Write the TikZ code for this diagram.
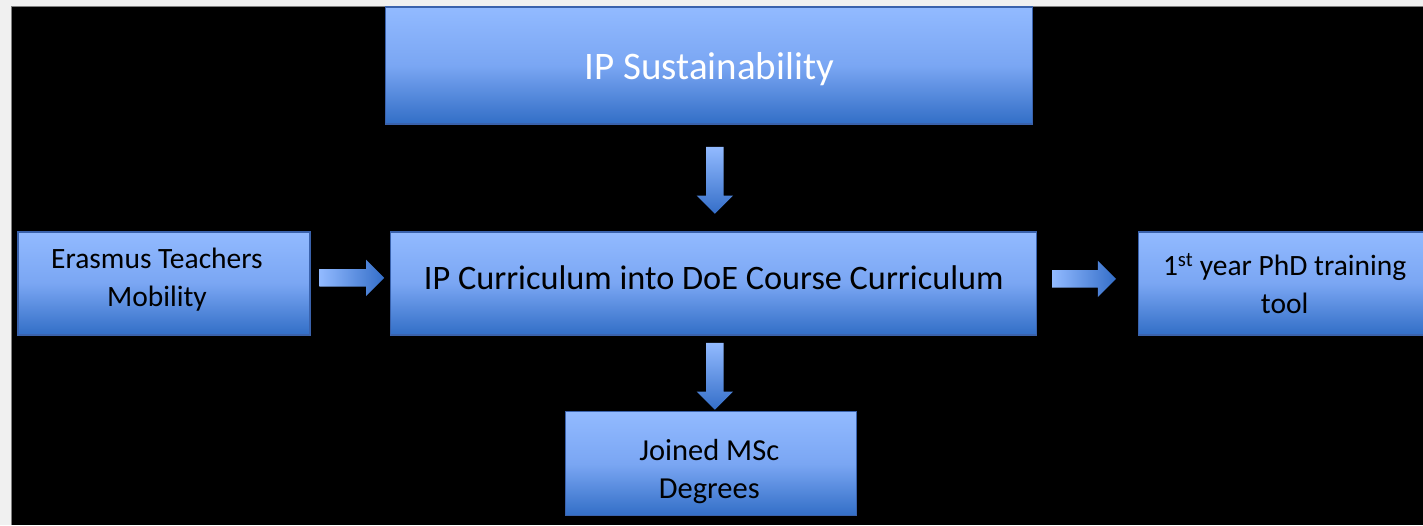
\documentclass[tikz,border=0pt]{standalone}
\usepackage{fontspec}
\setmainfont{Carlito}
\usetikzlibrary{shapes.arrows}
\definecolor{bgtop}{RGB}{146,186,255}
\definecolor{bgmid}{RGB}{122,166,243}
\definecolor{bgbot}{RGB}{50,110,198}
\definecolor{bord}{RGB}{58,98,172}
\definecolor{arlight}{RGB}{146,186,255}
\definecolor{ardark}{RGB}{52,110,200}
\definecolor{pagebg}{RGB}{240,240,240}
\begin{document}
\begin{tikzpicture}[x=1pt,y=-1pt,
  blk/.style={draw=bord, line width=1.2pt, top color=bgtop, bottom color=bgbot, middle color=bgmid,
              inner sep=0pt},
  lbl/.style={inner sep=0pt, align=center, text=black},
  bigtxt/.style={font=\fontsize{34.3}{40}\selectfont},
  smalltxt/.style={font=\fontsize{29.5}{38}\selectfont},
  arr/.style={single arrow, draw=none, single arrow head extend=9.5pt, single arrow tip angle=90},
  arrdown/.style={arr, inner xsep=8.5pt, inner ysep=0pt, shape border rotate=270,
                  top color=arlight, bottom color=ardark},
  arrright/.style={arr, inner xsep=0pt, inner ysep=8.5pt, left color=arlight, right color=ardark}]
\fill[pagebg] (0,0) rectangle (1423,525);
\fill[black] (11,6) rectangle (1423,525);
\draw[gray, line width=0.8pt] (11,525) -- (11,6) -- (1423,6);
\useasboundingbox (0,0) rectangle (1423,525);

\node[blk, minimum width=647pt, minimum height=117pt] (top) at (709.5,65.5) {};
\node[blk, minimum width=646pt, minimum height=103pt] (mid) at (714,283.5) {};
\node[blk, minimum width=292pt, minimum height=103pt] (left) at (164,283.5) {};
\node[blk, minimum width=292pt, minimum height=103pt] (right) at (1285,283.5) {};
\node[blk, minimum width=291pt, minimum height=104pt] (bot) at (711.5,464) {};

\node[lbl, text=white, font=\fontsize{39}{44}\selectfont] (topt) at ([yshift=-4pt]top.center) {IP Sustainability};
\node[lbl, bigtxt] (midt) at ([yshift=6pt]mid.center) {IP Curriculum into DoE Course Curriculum};
\node[lbl, smalltxt] (leftt) at ([xshift=-7pt,yshift=4pt]left.center) {Erasmus Teachers\\Mobility};
\node[lbl, smalltxt] (rightt) at ([yshift=0pt]right.center) {1\textsuperscript{st} year PhD training\\tool};
\node[lbl, smalltxt, font=\fontsize{30.5}{38}\selectfont] (bott) at ([xshift=-2pt,yshift=-8pt]bot.center) {Joined MSc\\Degrees};

\node[arrdown, minimum height=67pt] (a1) at (715,176) {};
\node[arrright, minimum height=65pt] (a2) at (347.5,278) {};
\node[arrright, minimum height=64pt] (a3) at (1080,279) {};
\node[arrdown, minimum height=67pt] (a4) at (715,372) {};
\end{tikzpicture}
\end{document}
